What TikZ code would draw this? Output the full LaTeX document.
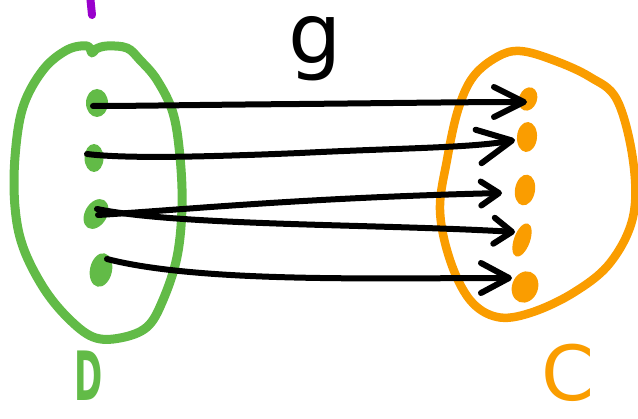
\documentclass[tikz,border=0pt]{standalone}
\usepackage{fontspec}
\newfontfamily\lblfont{DejaVu Sans}
\usetikzlibrary{shapes.geometric,arrows.meta}
\definecolor{dgreen}{RGB}{98,187,71}
\definecolor{corange}{RGB}{250,157,0}
\definecolor{mpurple}{RGB}{153,0,204}
\begin{document}
\begin{tikzpicture}[x=1pt,y=-1pt,
  gdot/.style={ellipse,fill=dgreen,draw=none,inner sep=0pt},
  odot/.style={ellipse,fill=corange,draw=none,inner sep=0pt},
  setline/.style={line width=9pt,line cap=round,line join=round},
  mapline/.style={line width=6pt,line cap=round,line join=round,black},
  lbl/.style={inner sep=0pt,anchor=center}]
\useasboundingbox (0,0) rectangle (638,419);
% purple mark
\draw[mpurple,line width=8pt,line cap=round] (90,-5) -- (92,15);
% green set D
\draw[setline,dgreen] plot[smooth cycle,tension=0.6] coordinates {
 (92,53) (87,46) (67,50) (43,70) (23,107) (15,157) (15,207) (23,247) (43,287)
 (67,317) (93,337) (120,338) (147,327) (163,300) (177,257) (182,207) (180,157)
 (173,113) (157,80) (140,60) (127,48) (107,46) (96,49)};
% orange set C
\draw[setline,corange,line width=8.5pt] plot[smooth cycle,tension=0.6] coordinates {
 (520,51) (497,57) (473,77) (458,110) (447,160) (440,210) (450,260) (470,300)
 (497,317) (530,313) (573,293) (610,263) (633,217) (633,160) (617,100)
 (590,77) (553,60)};
% dots
\node[gdot,minimum width=22pt,minimum height=28pt] (d1) at (97,103) {};
\node[gdot,minimum width=19pt,minimum height=28pt] (d2) at (94,158) {};
\node[gdot,minimum width=22pt,minimum height=32pt,rotate=-30] (d3) at (96,214) {};
\node[gdot,minimum width=22pt,minimum height=34pt,rotate=-12] (d4) at (101,270) {};
\node[odot,minimum width=18pt,minimum height=24pt,rotate=-20] (o1) at (528,99) {};
\node[odot,minimum width=20pt,minimum height=30pt,rotate=-5] (o2) at (527,137) {};
\node[odot,minimum width=20pt,minimum height=31pt,rotate=-10] (o3) at (525,190) {};
\node[odot,minimum width=16pt,minimum height=35pt,rotate=-20] (o4) at (522,240) {};
\node[odot,minimum width=26pt,minimum height=32pt,rotate=-20] (o5) at (525,287) {};
% arrow tips
\coordinate (t1) at (527,102);
\coordinate (t2) at (515,140);
\coordinate (t3) at (502,193);
\coordinate (t4) at (515,232);
\coordinate (t5) at (512,278);
% mapping arrows
\draw[mapline,-{Straight Barb[length=30pt,width=30pt,round]}]
  ([xshift=-4pt,yshift=-3pt]d1.center) .. controls (140,106) and (180,105) .. (300,104)
  .. controls (400,103) and (470,102) .. (t1);
\draw[mapline,-{Straight Barb[length=34pt,width=34pt,round]}]
  ([xshift=-7pt,yshift=4pt]d2.center) .. controls (120,158) and (180,158) .. (300,153)
  .. controls (400,148) and (470,148) .. (t2);
\draw[mapline,-{Straight Barb[length=18pt,width=24pt,round]}]
  ([xshift=2pt,yshift=-1pt]d3.center) .. controls (180,210) and (300,198) .. (t3);
\draw[mapline,-{Straight Barb[length=18pt,width=26pt,round]}]
  ([xshift=1pt,yshift=5pt]d3.center) .. controls (180,226) and (380,224) .. (t4);
\draw[mapline,-{Straight Barb[length=28pt,width=30pt,round]}]
  ([xshift=6pt,yshift=11pt]d4.center) .. controls (200,283) and (380,278) .. (t5);
% labels
\node[lbl,font=\lblfont\fontsize{84}{84}\selectfont] (g) at (315,49) {g};
\node[lbl,text=dgreen,font=\lblfont\bfseries\fontsize{68}{68}\selectfont,xscale=0.5] (lD) at (89,376) {D};
\node[lbl,text=corange,font=\lblfont\fontsize{76}{76}\selectfont] (lC) at (568,373) {C};
\end{tikzpicture}
\end{document}
